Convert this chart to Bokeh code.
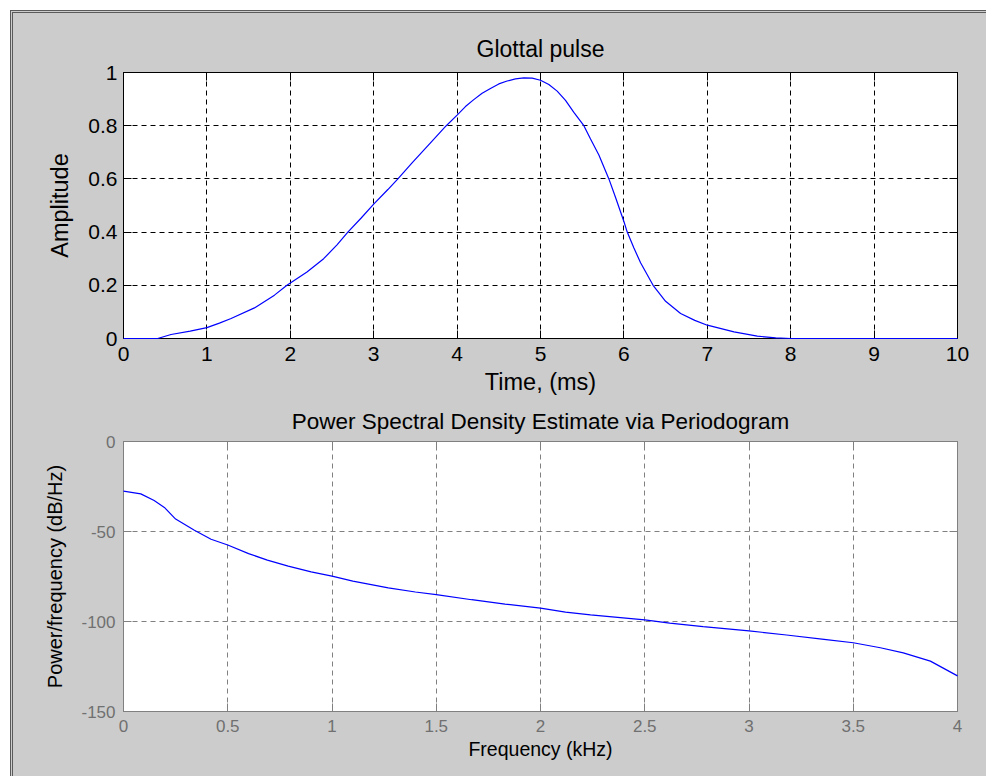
from bokeh.plotting import figure
from bokeh.models import Range1d, FixedTicker, LinearAxis
from bokeh.layouts import column
from bokeh.embed import file_html
from bokeh.resources import INLINE

# ---- data: glottal pulse ----
pulse_time_ms = [0.0, 0.41, 0.57, 0.8, 1.0, 1.15, 1.29, 1.57, 1.81, 1.96, 2.2, 2.4, 2.56,
                 2.69, 2.85, 3.0, 3.17, 3.29, 3.46, 3.7, 3.87, 4.0, 4.1, 4.2, 4.3, 4.4,
                 4.5, 4.6, 4.7, 4.8, 4.9, 5.0, 5.1, 5.2, 5.3, 5.4, 5.52, 5.6, 5.7, 5.82,
                 5.9, 6.0, 6.04, 6.12, 6.2, 6.35, 6.5, 6.68, 6.85, 7.0, 7.32, 7.6, 7.82,
                 8.0, 9.0, 10.0]
pulse_amp = [0.0, 0.0, 0.015, 0.028, 0.041, 0.058, 0.075, 0.115, 0.163, 0.2, 0.25, 0.30,
             0.352, 0.40, 0.453, 0.505, 0.56, 0.60, 0.66, 0.742, 0.80, 0.84, 0.872, 0.898,
             0.922, 0.94, 0.957, 0.968, 0.976, 0.98, 0.979, 0.971, 0.955, 0.93, 0.895, 0.85,
             0.80, 0.75, 0.69, 0.60, 0.53, 0.44, 0.40, 0.34, 0.285, 0.20, 0.14, 0.094,
             0.068, 0.05, 0.025, 0.009, 0.0025, 0.0, 0.0, 0.0]

# ---- data: periodogram ----
psd_freq_khz = [0.0, 0.083, 0.147, 0.196, 0.25, 0.34, 0.42, 0.5, 0.6, 0.69, 0.79, 0.9,
                1.0, 1.1, 1.27, 1.4, 1.5, 1.67, 1.83, 2.0, 2.12, 2.24, 2.5, 2.62, 2.78,
                3.0, 3.18, 3.36, 3.5, 3.63, 3.74, 3.87, 4.0]
psd_db = [-27.6, -29.1, -32.8, -36.6, -43.1, -49.3, -54.3, -57.5, -62.3, -65.9, -69.2,
          -72.4, -74.8, -77.6, -81.3, -83.6, -85.1, -87.9, -90.3, -92.6, -94.8, -96.3,
          -99.1, -100.9, -102.8, -105.2, -107.5, -109.9, -111.8, -114.6, -117.4, -122.0,
          -130.2]

# ---- tick labels ----
top_x_ticks = [0, 1, 2, 3, 4, 5, 6, 7, 8, 9, 10]
top_x_labels = ["0", "1", "2", "3", "4", "5", "6", "7", "8", "9", "10"]
top_y_ticks = [0, 0.2, 0.4, 0.6, 0.8, 1]
top_y_labels = ["0", "0.2", "0.4", "0.6", "0.8", "1"]
bot_x_ticks = [0, 0.5, 1, 1.5, 2, 2.5, 3, 3.5, 4]
bot_x_labels = ["0", "0.5", "1", "1.5", "2", "2.5", "3", "3.5", "4"]
bot_y_ticks = [-150, -100, -50, 0]
bot_y_labels = ["-150", "-100", "-50", "0"]

FONT = "Liberation Sans"
BG = "#cccccc"


def style_axes(p, xt, xl, yt, yl, color, lab_color, tick_size, lab_size):
    for ax in p.xaxis + p.yaxis:
        ax.axis_line_color = color
        ax.major_tick_line_color = color
        ax.major_tick_in = 8
        ax.major_tick_out = 0
        ax.minor_tick_line_color = None
        ax.major_label_text_font = FONT
        ax.major_label_text_font_size = tick_size
        ax.major_label_text_color = lab_color
        ax.axis_label_text_font = FONT
        ax.axis_label_text_font_size = lab_size
        ax.axis_label_text_font_style = "normal"
        ax.axis_label_text_color = "black"
    p.xaxis.ticker = FixedTicker(ticks=xt)
    p.yaxis.ticker = FixedTicker(ticks=yt)
    p.xaxis.major_label_overrides = {t: s for t, s in zip(xt, xl)}
    p.yaxis.major_label_overrides = {t: s for t, s in zip(yt, yl)}
    # mirrored tick marks on top and right (no labels)
    for loc, tk in (("above", xt), ("right", yt)):
        ax = LinearAxis(ticker=FixedTicker(ticks=tk))
        ax.major_label_overrides = {t: "" for t in tk}
        ax.major_label_text_font_size = "4px"
        ax.major_label_standoff = 0
        ax.axis_line_color = color
        ax.major_tick_line_color = color
        ax.major_tick_in = 8
        ax.major_tick_out = 0
        ax.minor_tick_line_color = None
        p.add_layout(ax, loc)


# ---- top figure ----
p1 = figure(frame_width=834, frame_height=266, output_backend="svg", toolbar_location=None,
            x_range=Range1d(0, 10), y_range=Range1d(0, 1),
            min_border_left=110, min_border_right=29, min_border_top=59, min_border_bottom=40)
p1.title.text = "Glottal pulse"
p1.title.align = "center"
p1.title.text_font = FONT
p1.title.text_font_size = "23px"
p1.title.text_font_style = "normal"
p1.title.text_color = "black"
p1.title.standoff = 21
p1.border_fill_color = BG
p1.background_fill_color = "white"
p1.outline_line_color = "black"
p1.outline_line_width = 1
p1.xaxis.axis_label = "Time, (ms)"
p1.yaxis.axis_label = "Amplitude"
p1.xaxis.axis_label_standoff = 5
p1.yaxis.axis_label_standoff = 12
p1.xaxis.major_label_standoff = 8
p1.yaxis.major_label_standoff = 6
style_axes(p1, top_x_ticks, top_x_labels, top_y_ticks, top_y_labels, "black", "black", "21px", "23.5px")
p1.grid.grid_line_color = "black"
p1.grid.grid_line_dash = "5 4"
p1.grid.grid_line_width = 1
p1.line(pulse_time_ms, pulse_amp, line_color="#0000ff", line_width=1.2, level="overlay")

# ---- bottom figure ----
p2 = figure(frame_width=834, frame_height=270, output_backend="svg", toolbar_location=None,
            x_range=Range1d(0, 4), y_range=Range1d(-150, 0),
            min_border_left=110, min_border_right=29, min_border_top=44, min_border_bottom=65)
p2.title.text = "Power Spectral Density Estimate via Periodogram"
p2.title.align = "center"
p2.title.text_font = FONT
p2.title.text_font_size = "22.5px"
p2.title.text_font_style = "normal"
p2.title.text_color = "black"
p2.title.standoff = 16
p2.border_fill_color = BG
p2.background_fill_color = "white"
p2.outline_line_color = "#808080"
p2.outline_line_width = 1
p2.xaxis.axis_label = "Frequency (kHz)"
p2.yaxis.axis_label = "Power/frequency (dB/Hz)"
p2.xaxis.axis_label_standoff = 3
p2.yaxis.axis_label_standoff = 12
p2.xaxis.major_label_standoff = 8
p2.yaxis.major_label_standoff = 8
style_axes(p2, bot_x_ticks, bot_x_labels, bot_y_ticks, bot_y_labels, "#808080", "#707070", "17px", "19.5px")
p2.yaxis.axis_label_text_font_size = "20px"
p2.grid.grid_line_color = "#808080"
p2.grid.grid_line_dash = "5 4"
p2.grid.grid_line_width = 1
p2.line(psd_freq_khz, psd_db, line_color="#0000ff", line_width=1.2, level="overlay")

layout = column(p1, p2, spacing=0,
                styles={"margin-left": "10px", "margin-top": "10px",
                        "border-left": "3px double #5a5a5a", "border-top": "3px double #5a5a5a",
                        "background-color": BG})

with open("out.html", "w") as f:
    f.write(file_html(layout, INLINE, title="Glottal pulse"))
